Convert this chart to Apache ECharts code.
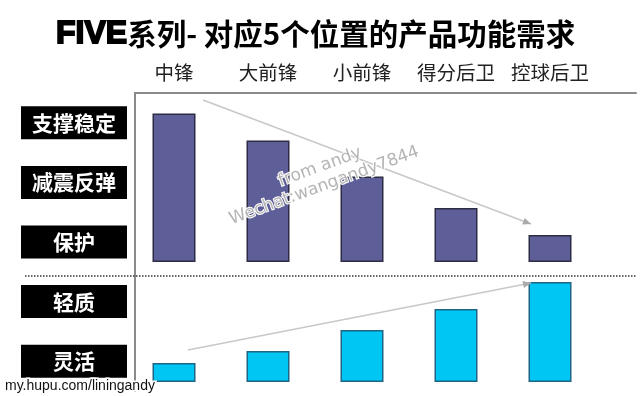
<!DOCTYPE html>
<html><head><meta charset="utf-8">
<script src="https://cdn.jsdelivr.net/npm/echarts@6/dist/echarts.min.js"></script>
<style>html,body{margin:0;padding:0;background:#fff}#c{width:640px;height:396px}</style>
</head><body><div id="c"></div>
<script>
// ---- data ----
const positions = ['中锋', '大前锋', '小前锋', '得分后卫', '控球后卫'];
const features = ['支撑稳定', '减震反弹', '保护', '轻质', '灵活'];
const supportValues = [9.9, 8.1, 5.7, 3.6, 1.8];   // 支撑稳定/减震反弹/保护 demand (upper bars)
const lightValues = [1.9, 3.1, 5.2, 7.3, 10.0];    // 轻质/灵活 demand (lower bars)
const titleBold = 'FIVE';
const titleRest = '系列- 对应5个位置的产品功能需求';
const footer = 'my.hupu.com/liningandy';
const watermark1 = 'from andy';
const watermark2 = 'Wechat:wangandy7844';

const chart = echarts.init(document.getElementById('c'), null, {renderer: 'canvas'});
const cjk = '"Noto Sans CJK SC", "Noto Sans", sans-serif';

function arrowHead(x1, y1, x2, y2) {
  const a = Math.atan2(y2 - y1, x2 - x1), L = 8, W = 3.5;
  return [[x2, y2],
          [x2 - L * Math.cos(a) + W * Math.sin(a), y2 - L * Math.sin(a) - W * Math.cos(a)],
          [x2 - L * Math.cos(a) - W * Math.sin(a), y2 - L * Math.sin(a) + W * Math.cos(a)]];
}
const arrows = [[203, 100, 531, 224], [188, 350, 531, 283]];
const arrowGraphics = [];
arrows.forEach(([x1, y1, x2, y2]) => {
  arrowGraphics.push({type: 'line', shape: {x1, y1, x2, y2}, style: {stroke: '#c8c8c8', lineWidth: 1.5}, z: 5});
  arrowGraphics.push({type: 'polygon', shape: {points: arrowHead(x1, y1, x2, y2)}, style: {fill: '#aaaaaa'}, z: 5});
});

const option = {
  backgroundColor: '#fff',
  animation: false,
  title: {
    left: 51, top: 13,
    text: '{a|' + titleBold + '}{b|' + titleRest + '}',
    textStyle: {
      rich: {
        a: {fontFamily: '"Liberation Sans", Arial, sans-serif', fontWeight: 'bold', fontSize: 32, color: '#000', textBorderColor: '#000', textBorderWidth: 1.8},
        b: {fontFamily: cjk, fontWeight: 'bold', fontSize: 29.5, color: '#000'}
      }
    }
  },
  grid: [
    {left: 135, right: 4, top: 93, height: 298},
    {left: 127, width: 470, top: 112, height: 150},
    {left: 127, width: 470, top: 282, height: 100}
  ],
  xAxis: [
    {gridIndex: 0, type: 'value', position: 'top', axisLine: {show: true, onZero: false, lineStyle: {color: '#8a8a8a', width: 2}},
     axisTick: {show: false}, axisLabel: {show: false}, splitLine: {show: false}},
    {gridIndex: 1, type: 'category', data: positions, position: 'top', axisLine: {show: false}, axisTick: {show: false},
     axisLabel: {interval: 0, margin: 30, fontFamily: cjk, fontSize: 19.5, color: '#222'}},
    {gridIndex: 2, type: 'category', data: positions, show: false}
  ],
  yAxis: [
    {gridIndex: 0, type: 'category', data: features, inverse: true,
     axisLine: {show: true, onZero: false, lineStyle: {color: '#8a8a8a', width: 2}}, axisTick: {show: false}, splitLine: {show: false},
     axisLabel: {interval: 0, margin: 8, formatter: v => '{box|' + v + '}',
       rich: {box: {backgroundColor: '#000', color: '#fff', fontFamily: cjk, fontWeight: 'bold', fontSize: 21, width: 106, height: 33, lineHeight: 33, align: 'center'}}}},
    {gridIndex: 1, type: 'value', min: 0, max: 10, show: false},
    {gridIndex: 2, type: 'value', min: 0, max: 10, show: false}
  ],
  series: [
    {type: 'bar', xAxisIndex: 1, yAxisIndex: 1, data: supportValues, barWidth: 43,
     itemStyle: {color: '#5e5e99', borderColor: '#2c2c45', borderWidth: 1.5}},
    {type: 'bar', xAxisIndex: 2, yAxisIndex: 2, data: lightValues, barWidth: 43,
     itemStyle: {color: '#00c6f4', borderColor: '#1d6585', borderWidth: 1.5}}
  ],
  graphic: [
    {type: 'line', shape: {x1: 25, y1: 276, x2: 636, y2: 276}, style: {stroke: '#333', lineWidth: 1.5, lineDash: [1.5, 1.5]}, z: 10},
    ...arrowGraphics,
    {type: 'text', x: 282, y: 190, rotation: 20 * Math.PI / 180, z: 6,
     style: {text: watermark1, fill: '#b4b4b4', font: '17px "DejaVu Sans", sans-serif', verticalAlign: 'bottom', stroke: '#fff', lineWidth: 2}},
    {type: 'text', x: 233, y: 228, rotation: 20 * Math.PI / 180, z: 6,
     style: {text: watermark2, fill: '#b4b4b4', font: '17px "DejaVu Sans", sans-serif', verticalAlign: 'bottom', stroke: '#fff', lineWidth: 2}},
    {type: 'text', x: 5, y: 386, z: 20,
     style: {text: footer, fill: '#111', font: '14px "Liberation Sans", Arial, sans-serif', verticalAlign: 'middle', stroke: '#fff', lineWidth: 3}}
  ]
};
chart.setOption(option);
</script></body></html>
